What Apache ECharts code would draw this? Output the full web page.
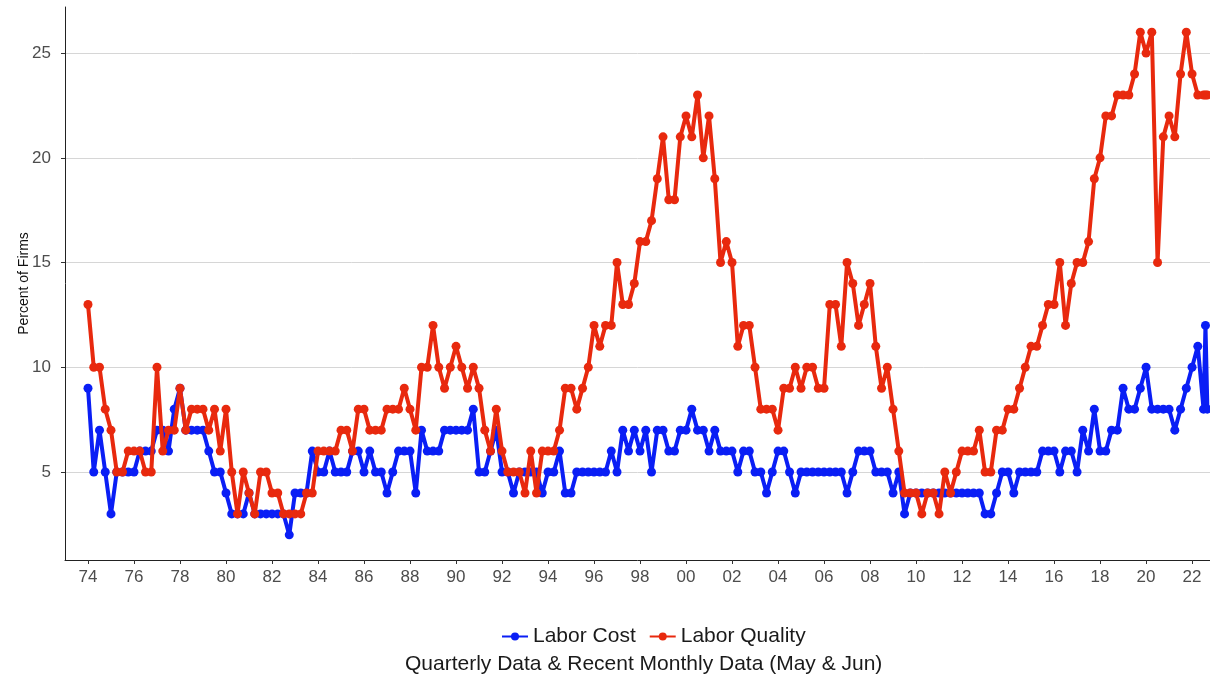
<!DOCTYPE html>
<html>
<head>
<meta charset="utf-8">
<script src="https://cdn.jsdelivr.net/npm/echarts@6/dist/echarts.min.js"></script>
<style>
  html, body { margin: 0; padding: 0; background: #fff; }
  #chart { width: 1210px; height: 679px; }
</style>
</head>
<body>
<div id="chart"></div>
<script>
// quarterly data, first point is 1974 Q1
var firstYear = 1974;

var laborCost = [
  9, 5, 7, 5,   3, 5, 5, 5,   5, 6, 6, 6,   7, 7, 6, 8,   9, 7, 7, 7,
  7, 6, 5, 5,   4, 3, 3, 3,   4, 3, 3, 3,   3, 3, 3, 2,   4, 4, 4, 6,
  5, 5, 6, 5,   5, 5, 6, 6,   5, 6, 5, 5,   4, 5, 6, 6,   6, 4, 7, 6,
  6, 6, 7, 7,   7, 7, 7, 8,   5, 5, 6, 7,   5, 5, 4, 5,   5, 5, 5, 4,
  5, 5, 6, 4,   4, 5, 5, 5,   5, 5, 5, 6,   5, 7, 6, 7,   6, 7, 5, 7,
  7, 6, 6, 7,   7, 8, 7, 7,   6, 7, 6, 6,   6, 5, 6, 6,   5, 5, 4, 5,
  6, 6, 5, 4,   5, 5, 5, 5,   5, 5, 5, 5,   4, 5, 6, 6,   6, 5, 5, 5,
  4, 5, 3, 4,   4, 4, 4, 4,   4, 4, 4, 4,   4, 4, 4, 4,   3, 3, 4, 5,
  5, 4, 5, 5,   5, 5, 6, 6,   6, 5, 6, 6,   5, 7, 6, 8,   6, 6, 7, 7,
  9, 8, 8, 9,   10, 8, 8, 8,  8, 7, 8, 9,   10
];

var laborQuality = [
  13, 10, 10, 8,  7, 5, 5, 6,    6, 6, 5, 5,    10, 6, 7, 7,   9, 7, 8, 8,
  8, 7, 8, 6,     8, 5, 3, 5,    4, 3, 5, 5,    4, 4, 3, 3,    3, 3, 4, 4,
  6, 6, 6, 6,     7, 7, 6, 8,    8, 7, 7, 7,    8, 8, 8, 9,    8, 7, 10, 10,
  12, 10, 9, 10,  11, 10, 9, 10, 9, 7, 6, 8,    6, 5, 5, 5,    4, 6, 4, 6,
  6, 6, 7, 9,     9, 8, 9, 10,   12, 11, 12, 12, 15, 13, 13, 14, 16, 16, 17, 19,
  21, 18, 18, 21, 22, 21, 23, 20, 22, 19, 15, 16, 15, 11, 12, 12, 10, 8, 8, 8,
  7, 9, 9, 10,    9, 10, 10, 9,  9, 13, 13, 11, 15, 14, 12, 13, 14, 11, 9, 10,
  8, 6, 4, 4,     4, 3, 4, 4,    3, 5, 4, 5,    6, 6, 6, 7,    5, 5, 7, 7,
  8, 8, 9, 10,    11, 11, 12, 13, 13, 15, 12, 14, 15, 15, 16, 19, 20, 22, 22, 23,
  23, 23, 24, 26, 25, 26, 15, 21, 22, 21, 24, 26, 24
];

// recent monthly points after 2022 Q1
var recentTimes = [2022.25, 2022.5, 2022.583, 2022.667];
var recentCost = [11, 8, 12, 8];
var recentQuality = [23, 23, 23, 23];

var tickYears = [1974, 1976, 1978, 1980, 1982, 1984, 1986, 1988, 1990, 1992, 1994, 1996,
  1998, 2000, 2002, 2004, 2006, 2008, 2010, 2012, 2014, 2016, 2018, 2020, 2022];
var yTicks = [5, 10, 15, 20, 25];

var blue = '#0a1ef5';
var red = '#e8290e';
var font = '"Liberation Sans", Arial, sans-serif';

function toPoints(values, extraTimes, extraValues) {
  var pts = values.map(function (v, i) {
    return [firstYear + i / 4, v];
  });
  for (var i = 0; i < extraTimes.length; i++) {
    pts.push([extraTimes[i], extraValues[i]]);
  }
  return pts;
}

var myChart = echarts.init(document.getElementById('chart'), null, { renderer: 'canvas' });

var option = {
  animation: false,
  backgroundColor: '#fff',
  textStyle: { fontFamily: font },
  grid: { left: 65, right: 0, top: 7, bottom: 119, outerBoundsMode: 'none' },
  legend: {
    left: 496,
    top: 621,
    itemWidth: 26,
    itemHeight: 10,
    itemGap: 13,
    textStyle: { fontSize: 21, color: '#1a1a1a', fontFamily: font },
    data: ['Labor Cost', 'Labor Quality'],
  },
  graphic: [{
    type: 'text',
    left: 405,
    top: 654,
    style: {
      text: 'Quarterly Data & Recent Monthly Data (May & Jun)',
      font: '21px ' + font,
      fill: '#1a1a1a',
    },
  }],
  xAxis: {
    type: 'value',
    min: 1973,
    max: 2022.78,
    axisLine: { show: true, lineStyle: { color: '#222', width: 1 } },
    axisTick: { show: true, length: 4, customValues: tickYears, lineStyle: { color: '#333' } },
    axisLabel: {
      customValues: tickYears,
      fontSize: 17,
      color: '#4d4d4d',
      margin: 9,
      formatter: function (v) {
        return String(v).slice(2);
      },
    },
    splitLine: { show: false },
  },
  yAxis: {
    type: 'value',
    min: 0.8,
    max: 27.2,
    name: 'Percent of Firms',
    nameLocation: 'middle',
    nameRotate: 90,
    nameGap: 34,
    nameMoveOverlap: false,
    nameTextStyle: { fontSize: 14, color: '#111' },
    axisLine: { show: true, lineStyle: { color: '#222', width: 1 } },
    axisTick: { show: true, length: 4, customValues: yTicks, lineStyle: { color: '#333' } },
    axisLabel: { customValues: yTicks, fontSize: 17, color: '#4d4d4d', margin: 14 },
    splitLine: { show: true, lineStyle: { color: '#d6d6d6', width: 1 } },
  },
  series: [
    {
      name: 'Labor Cost',
      type: 'line',
      data: toPoints(laborCost, recentTimes, recentCost),
      symbol: 'circle',
      symbolSize: 9,
      showAllSymbol: true,
      lineStyle: { width: 4, color: blue },
      itemStyle: { color: blue },
      z: 2,
    },
    {
      name: 'Labor Quality',
      type: 'line',
      data: toPoints(laborQuality, recentTimes, recentQuality),
      symbol: 'circle',
      symbolSize: 9,
      showAllSymbol: true,
      lineStyle: { width: 4, color: red },
      itemStyle: { color: red },
      z: 3,
    },
  ],
};

myChart.setOption(option);
</script>
</body>
</html>
